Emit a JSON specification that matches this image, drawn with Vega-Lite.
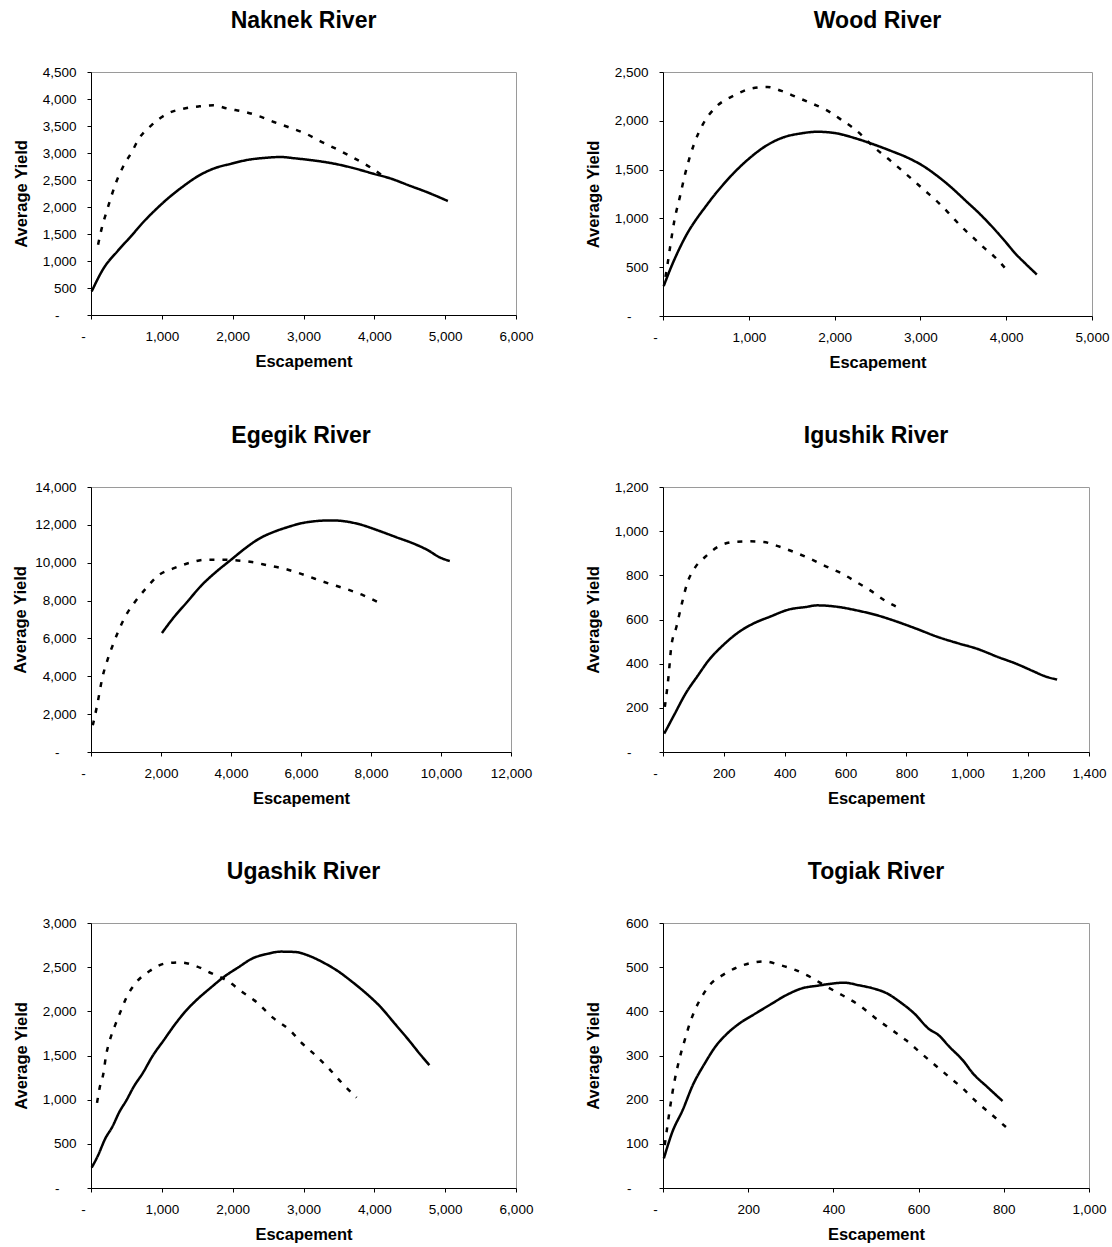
{
  "$schema": "https://vega.github.io/schema/vega-lite/v6.json",
  "padding": {"left": 12, "top": 9, "right": 0, "bottom": 0},
  "config": {
    "font": "Liberation Sans",
    "view": {"stroke": "#9a9a9a", "strokeWidth": 1},
    "axis": {
      "grid": false,
      "domainColor": "#000000",
      "tickColor": "#000000",
      "tickSize": 4,
      "labelFont": "Liberation Sans",
      "labelFontSize": 13.5,
      "labelColor": "#000000",
      "titleFont": "Liberation Sans",
      "titleFontSize": 16.5,
      "titleFontWeight": "bold",
      "titleColor": "#000000",
      "labelExpr": "datum.value == 0 ? '-' : format(datum.value, ',')"
    },
    "axisX": {"labelPadding": 10, "titlePadding": 11, "labelFlush": false, "labelOverlap": false,
      "labelOffset": {"condition": {"test": "datum.value == 0", "value": -8}, "value": 0}},
    "axisY": {"labelOverlap": false,
      "labelPadding": {"condition": {"test": "datum.value == 0", "value": 28}, "value": 11}},
    "title": {"fontSize": 23, "fontWeight": "bold", "color": "#000000", "offset": 32, "font": "Liberation Sans"},
    "line": {"color": "#000000", "strokeWidth": 2.5, "interpolate": "monotone"}
  },
  "datasets": {
    "naknek": [
      {"esc": 10, "yield": 438, "series": "Series 1"},
      {"esc": 175, "yield": 858, "series": "Series 1"},
      {"esc": 376, "yield": 1185, "series": "Series 1"},
      {"esc": 576, "yield": 1475, "series": "Series 1"},
      {"esc": 727, "yield": 1704, "series": "Series 1"},
      {"esc": 927, "yield": 1969, "series": "Series 1"},
      {"esc": 1078, "yield": 2150, "series": "Series 1"},
      {"esc": 1278, "yield": 2360, "series": "Series 1"},
      {"esc": 1529, "yield": 2586, "series": "Series 1"},
      {"esc": 1729, "yield": 2710, "series": "Series 1"},
      {"esc": 1980, "yield": 2802, "series": "Series 1"},
      {"esc": 2231, "yield": 2877, "series": "Series 1"},
      {"esc": 2431, "yield": 2907, "series": "Series 1"},
      {"esc": 2682, "yield": 2926, "series": "Series 1"},
      {"esc": 2882, "yield": 2901, "series": "Series 1"},
      {"esc": 3133, "yield": 2864, "series": "Series 1"},
      {"esc": 3434, "yield": 2802, "series": "Series 1"},
      {"esc": 3684, "yield": 2728, "series": "Series 1"},
      {"esc": 3985, "yield": 2617, "series": "Series 1"},
      {"esc": 4236, "yield": 2525, "series": "Series 1"},
      {"esc": 4486, "yield": 2401, "series": "Series 1"},
      {"esc": 4737, "yield": 2278, "series": "Series 1"},
      {"esc": 5038, "yield": 2111, "series": "Series 1"},
      {"esc": 100, "yield": 1302, "series": "Series 2"},
      {"esc": 150, "yield": 1599, "series": "Series 2"},
      {"esc": 226, "yield": 1938, "series": "Series 2"},
      {"esc": 351, "yield": 2444, "series": "Series 2"},
      {"esc": 451, "yield": 2741, "series": "Series 2"},
      {"esc": 576, "yield": 3019, "series": "Series 2"},
      {"esc": 677, "yield": 3265, "series": "Series 2"},
      {"esc": 852, "yield": 3512, "series": "Series 2"},
      {"esc": 1078, "yield": 3728, "series": "Series 2"},
      {"esc": 1303, "yield": 3821, "series": "Series 2"},
      {"esc": 1529, "yield": 3864, "series": "Series 2"},
      {"esc": 1729, "yield": 3883, "series": "Series 2"},
      {"esc": 1930, "yield": 3821, "series": "Series 2"},
      {"esc": 2180, "yield": 3759, "series": "Series 2"},
      {"esc": 2381, "yield": 3679, "series": "Series 2"},
      {"esc": 2581, "yield": 3574, "series": "Series 2"},
      {"esc": 2782, "yield": 3481, "series": "Series 2"},
      {"esc": 3033, "yield": 3358, "series": "Series 2"},
      {"esc": 3233, "yield": 3222, "series": "Series 2"},
      {"esc": 3484, "yield": 3062, "series": "Series 2"},
      {"esc": 3684, "yield": 2926, "series": "Series 2"},
      {"esc": 3935, "yield": 2741, "series": "Series 2"},
      {"esc": 4110, "yield": 2586, "series": "Series 2"}
    ],
    "wood": [
      {"esc": 8, "yield": 306, "series": "Series 1"},
      {"esc": 71, "yield": 450, "series": "Series 1"},
      {"esc": 175, "yield": 660, "series": "Series 1"},
      {"esc": 279, "yield": 840, "series": "Series 1"},
      {"esc": 403, "yield": 1010, "series": "Series 1"},
      {"esc": 487, "yield": 1110, "series": "Series 1"},
      {"esc": 591, "yield": 1230, "series": "Series 1"},
      {"esc": 695, "yield": 1340, "series": "Series 1"},
      {"esc": 819, "yield": 1460, "series": "Series 1"},
      {"esc": 986, "yield": 1600, "series": "Series 1"},
      {"esc": 1194, "yield": 1740, "series": "Series 1"},
      {"esc": 1402, "yield": 1830, "series": "Series 1"},
      {"esc": 1610, "yield": 1871, "series": "Series 1"},
      {"esc": 1797, "yield": 1888, "series": "Series 1"},
      {"esc": 2026, "yield": 1871, "series": "Series 1"},
      {"esc": 2234, "yield": 1823, "series": "Series 1"},
      {"esc": 2443, "yield": 1762, "series": "Series 1"},
      {"esc": 2650, "yield": 1694, "series": "Series 1"},
      {"esc": 2858, "yield": 1619, "series": "Series 1"},
      {"esc": 3025, "yield": 1541, "series": "Series 1"},
      {"esc": 3191, "yield": 1439, "series": "Series 1"},
      {"esc": 3357, "yield": 1320, "series": "Series 1"},
      {"esc": 3524, "yield": 1184, "series": "Series 1"},
      {"esc": 3690, "yield": 1048, "series": "Series 1"},
      {"esc": 3857, "yield": 895, "series": "Series 1"},
      {"esc": 3982, "yield": 770, "series": "Series 1"},
      {"esc": 4107, "yield": 640, "series": "Series 1"},
      {"esc": 4232, "yield": 530, "series": "Series 1"},
      {"esc": 4357, "yield": 425, "series": "Series 1"},
      {"esc": 29, "yield": 401, "series": "Series 2"},
      {"esc": 54, "yield": 537, "series": "Series 2"},
      {"esc": 83, "yield": 707, "series": "Series 2"},
      {"esc": 133, "yield": 980, "series": "Series 2"},
      {"esc": 196, "yield": 1218, "series": "Series 2"},
      {"esc": 258, "yield": 1456, "series": "Series 2"},
      {"esc": 362, "yield": 1762, "series": "Series 2"},
      {"esc": 466, "yield": 1966, "series": "Series 2"},
      {"esc": 611, "yield": 2136, "series": "Series 2"},
      {"esc": 819, "yield": 2255, "series": "Series 2"},
      {"esc": 1027, "yield": 2330, "series": "Series 2"},
      {"esc": 1215, "yield": 2347, "series": "Series 2"},
      {"esc": 1381, "yield": 2306, "series": "Series 2"},
      {"esc": 1568, "yield": 2238, "series": "Series 2"},
      {"esc": 1755, "yield": 2170, "series": "Series 2"},
      {"esc": 1921, "yield": 2102, "series": "Series 2"},
      {"esc": 2067, "yield": 2017, "series": "Series 2"},
      {"esc": 2234, "yield": 1915, "series": "Series 2"},
      {"esc": 2484, "yield": 1711, "series": "Series 2"},
      {"esc": 2650, "yield": 1592, "series": "Series 2"},
      {"esc": 2796, "yield": 1483, "series": "Series 2"},
      {"esc": 3045, "yield": 1290, "series": "Series 2"},
      {"esc": 3212, "yield": 1160, "series": "Series 2"},
      {"esc": 3337, "yield": 1048, "series": "Series 2"},
      {"esc": 3482, "yield": 912, "series": "Series 2"},
      {"esc": 3607, "yield": 810, "series": "Series 2"},
      {"esc": 3753, "yield": 690, "series": "Series 2"},
      {"esc": 3898, "yield": 578, "series": "Series 2"},
      {"esc": 4023, "yield": 452, "series": "Series 2"}
    ],
    "egegik": [
      {"esc": 2026, "yield": 6285, "series": "Series 1"},
      {"esc": 2334, "yield": 7042, "series": "Series 1"},
      {"esc": 2745, "yield": 7923, "series": "Series 1"},
      {"esc": 3157, "yield": 8803, "series": "Series 1"},
      {"esc": 3568, "yield": 9507, "series": "Series 1"},
      {"esc": 3979, "yield": 10123, "series": "Series 1"},
      {"esc": 4391, "yield": 10739, "series": "Series 1"},
      {"esc": 4802, "yield": 11268, "series": "Series 1"},
      {"esc": 5213, "yield": 11620, "series": "Series 1"},
      {"esc": 5625, "yield": 11884, "series": "Series 1"},
      {"esc": 6036, "yield": 12095, "series": "Series 1"},
      {"esc": 6447, "yield": 12201, "series": "Series 1"},
      {"esc": 6859, "yield": 12236, "series": "Series 1"},
      {"esc": 7270, "yield": 12183, "series": "Series 1"},
      {"esc": 7681, "yield": 12025, "series": "Series 1"},
      {"esc": 8195, "yield": 11708, "series": "Series 1"},
      {"esc": 8710, "yield": 11356, "series": "Series 1"},
      {"esc": 9224, "yield": 11004, "series": "Series 1"},
      {"esc": 9635, "yield": 10651, "series": "Series 1"},
      {"esc": 9944, "yield": 10299, "series": "Series 1"},
      {"esc": 10252, "yield": 10088, "series": "Series 1"},
      {"esc": 51, "yield": 1408, "series": "Series 2"},
      {"esc": 175, "yield": 2465, "series": "Series 2"},
      {"esc": 329, "yield": 3961, "series": "Series 2"},
      {"esc": 483, "yield": 4930, "series": "Series 2"},
      {"esc": 638, "yield": 5722, "series": "Series 2"},
      {"esc": 792, "yield": 6426, "series": "Series 2"},
      {"esc": 997, "yield": 7218, "series": "Series 2"},
      {"esc": 1254, "yield": 7923, "series": "Series 2"},
      {"esc": 1563, "yield": 8627, "series": "Series 2"},
      {"esc": 1923, "yield": 9331, "series": "Series 2"},
      {"esc": 2334, "yield": 9683, "series": "Series 2"},
      {"esc": 2797, "yield": 9983, "series": "Series 2"},
      {"esc": 3260, "yield": 10159, "series": "Series 2"},
      {"esc": 3774, "yield": 10159, "series": "Series 2"},
      {"esc": 4185, "yield": 10123, "series": "Series 2"},
      {"esc": 4596, "yield": 10035, "series": "Series 2"},
      {"esc": 5059, "yield": 9859, "series": "Series 2"},
      {"esc": 5522, "yield": 9683, "series": "Series 2"},
      {"esc": 5934, "yield": 9454, "series": "Series 2"},
      {"esc": 6396, "yield": 9155, "series": "Series 2"},
      {"esc": 6807, "yield": 8891, "series": "Series 2"},
      {"esc": 7270, "yield": 8627, "series": "Series 2"},
      {"esc": 7784, "yield": 8275, "series": "Series 2"},
      {"esc": 8195, "yield": 7923, "series": "Series 2"}
    ],
    "igushik": [
      {"esc": 4, "yield": 83, "series": "Series 1"},
      {"esc": 39, "yield": 174, "series": "Series 1"},
      {"esc": 74, "yield": 264, "series": "Series 1"},
      {"esc": 115, "yield": 347, "series": "Series 1"},
      {"esc": 150, "yield": 415, "series": "Series 1"},
      {"esc": 197, "yield": 483, "series": "Series 1"},
      {"esc": 249, "yield": 543, "series": "Series 1"},
      {"esc": 296, "yield": 581, "series": "Series 1"},
      {"esc": 354, "yield": 614, "series": "Series 1"},
      {"esc": 413, "yield": 645, "series": "Series 1"},
      {"esc": 471, "yield": 657, "series": "Series 1"},
      {"esc": 506, "yield": 664, "series": "Series 1"},
      {"esc": 576, "yield": 657, "series": "Series 1"},
      {"esc": 634, "yield": 642, "series": "Series 1"},
      {"esc": 704, "yield": 619, "series": "Series 1"},
      {"esc": 763, "yield": 593, "series": "Series 1"},
      {"esc": 833, "yield": 558, "series": "Series 1"},
      {"esc": 903, "yield": 521, "series": "Series 1"},
      {"esc": 973, "yield": 491, "series": "Series 1"},
      {"esc": 1031, "yield": 468, "series": "Series 1"},
      {"esc": 1101, "yield": 430, "series": "Series 1"},
      {"esc": 1160, "yield": 400, "series": "Series 1"},
      {"esc": 1218, "yield": 365, "series": "Series 1"},
      {"esc": 1253, "yield": 344, "series": "Series 1"},
      {"esc": 1295, "yield": 328, "series": "Series 1"},
      {"esc": 6, "yield": 204, "series": "Series 2"},
      {"esc": 18, "yield": 340, "series": "Series 2"},
      {"esc": 27, "yield": 475, "series": "Series 2"},
      {"esc": 44, "yield": 566, "series": "Series 2"},
      {"esc": 62, "yield": 672, "series": "Series 2"},
      {"esc": 79, "yield": 762, "series": "Series 2"},
      {"esc": 103, "yield": 830, "series": "Series 2"},
      {"esc": 138, "yield": 883, "series": "Series 2"},
      {"esc": 179, "yield": 928, "series": "Series 2"},
      {"esc": 231, "yield": 951, "series": "Series 2"},
      {"esc": 284, "yield": 954, "series": "Series 2"},
      {"esc": 331, "yield": 951, "series": "Series 2"},
      {"esc": 378, "yield": 932, "series": "Series 2"},
      {"esc": 430, "yield": 906, "series": "Series 2"},
      {"esc": 483, "yield": 875, "series": "Series 2"},
      {"esc": 535, "yield": 841, "series": "Series 2"},
      {"esc": 588, "yield": 808, "series": "Series 2"},
      {"esc": 635, "yield": 770, "series": "Series 2"},
      {"esc": 681, "yield": 732, "series": "Series 2"},
      {"esc": 728, "yield": 687, "series": "Series 2"},
      {"esc": 787, "yield": 645, "series": "Series 2"}
    ],
    "ugashik": [
      {"esc": 10, "yield": 231, "series": "Series 1"},
      {"esc": 100, "yield": 370, "series": "Series 1"},
      {"esc": 201, "yield": 559, "series": "Series 1"},
      {"esc": 301, "yield": 692, "series": "Series 1"},
      {"esc": 401, "yield": 862, "series": "Series 1"},
      {"esc": 501, "yield": 994, "series": "Series 1"},
      {"esc": 602, "yield": 1145, "series": "Series 1"},
      {"esc": 727, "yield": 1296, "series": "Series 1"},
      {"esc": 877, "yield": 1504, "series": "Series 1"},
      {"esc": 1028, "yield": 1674, "series": "Series 1"},
      {"esc": 1178, "yield": 1844, "series": "Series 1"},
      {"esc": 1328, "yield": 1995, "series": "Series 1"},
      {"esc": 1479, "yield": 2120, "series": "Series 1"},
      {"esc": 1679, "yield": 2260, "series": "Series 1"},
      {"esc": 1880, "yield": 2392, "series": "Series 1"},
      {"esc": 2080, "yield": 2498, "series": "Series 1"},
      {"esc": 2281, "yield": 2600, "series": "Series 1"},
      {"esc": 2481, "yield": 2649, "series": "Series 1"},
      {"esc": 2682, "yield": 2676, "series": "Series 1"},
      {"esc": 2882, "yield": 2672, "series": "Series 1"},
      {"esc": 3083, "yield": 2627, "series": "Series 1"},
      {"esc": 3283, "yield": 2551, "series": "Series 1"},
      {"esc": 3484, "yield": 2456, "series": "Series 1"},
      {"esc": 3684, "yield": 2336, "series": "Series 1"},
      {"esc": 3885, "yield": 2203, "series": "Series 1"},
      {"esc": 4085, "yield": 2052, "series": "Series 1"},
      {"esc": 4286, "yield": 1863, "series": "Series 1"},
      {"esc": 4486, "yield": 1674, "series": "Series 1"},
      {"esc": 4637, "yield": 1523, "series": "Series 1"},
      {"esc": 4777, "yield": 1391, "series": "Series 1"},
      {"esc": 85, "yield": 964, "series": "Series 2"},
      {"esc": 125, "yield": 1145, "series": "Series 2"},
      {"esc": 175, "yield": 1296, "series": "Series 2"},
      {"esc": 211, "yield": 1493, "series": "Series 2"},
      {"esc": 266, "yield": 1674, "series": "Series 2"},
      {"esc": 341, "yield": 1844, "series": "Series 2"},
      {"esc": 426, "yield": 2014, "series": "Series 2"},
      {"esc": 501, "yield": 2158, "series": "Series 2"},
      {"esc": 627, "yield": 2317, "series": "Series 2"},
      {"esc": 827, "yield": 2456, "series": "Series 2"},
      {"esc": 1053, "yield": 2543, "series": "Series 2"},
      {"esc": 1253, "yield": 2555, "series": "Series 2"},
      {"esc": 1479, "yield": 2513, "series": "Series 2"},
      {"esc": 1704, "yield": 2430, "series": "Series 2"},
      {"esc": 1930, "yield": 2343, "series": "Series 2"},
      {"esc": 2130, "yield": 2222, "series": "Series 2"},
      {"esc": 2331, "yield": 2109, "series": "Series 2"},
      {"esc": 2581, "yield": 1920, "series": "Series 2"},
      {"esc": 2807, "yield": 1787, "series": "Series 2"},
      {"esc": 2982, "yield": 1636, "series": "Series 2"},
      {"esc": 3183, "yield": 1493, "series": "Series 2"},
      {"esc": 3358, "yield": 1353, "series": "Series 2"},
      {"esc": 3559, "yield": 1175, "series": "Series 2"},
      {"esc": 3749, "yield": 1024, "series": "Series 2"}
    ],
    "togiak": [
      {"esc": 2, "yield": 67, "series": "Series 1"},
      {"esc": 22, "yield": 127, "series": "Series 1"},
      {"esc": 46, "yield": 176, "series": "Series 1"},
      {"esc": 70, "yield": 233, "series": "Series 1"},
      {"esc": 98, "yield": 282, "series": "Series 1"},
      {"esc": 123, "yield": 320, "series": "Series 1"},
      {"esc": 151, "yield": 350, "series": "Series 1"},
      {"esc": 180, "yield": 373, "series": "Series 1"},
      {"esc": 217, "yield": 395, "series": "Series 1"},
      {"esc": 253, "yield": 416, "series": "Series 1"},
      {"esc": 290, "yield": 437, "series": "Series 1"},
      {"esc": 326, "yield": 452, "series": "Series 1"},
      {"esc": 363, "yield": 458, "series": "Series 1"},
      {"esc": 399, "yield": 463, "series": "Series 1"},
      {"esc": 424, "yield": 465, "series": "Series 1"},
      {"esc": 460, "yield": 459, "series": "Series 1"},
      {"esc": 493, "yield": 452, "series": "Series 1"},
      {"esc": 525, "yield": 441, "series": "Series 1"},
      {"esc": 558, "yield": 420, "series": "Series 1"},
      {"esc": 590, "yield": 395, "series": "Series 1"},
      {"esc": 623, "yield": 361, "series": "Series 1"},
      {"esc": 647, "yield": 346, "series": "Series 1"},
      {"esc": 672, "yield": 320, "series": "Series 1"},
      {"esc": 704, "yield": 289, "series": "Series 1"},
      {"esc": 728, "yield": 259, "series": "Series 1"},
      {"esc": 761, "yield": 229, "series": "Series 1"},
      {"esc": 797, "yield": 197, "series": "Series 1"},
      {"esc": 4, "yield": 97, "series": "Series 2"},
      {"esc": 10, "yield": 138, "series": "Series 2"},
      {"esc": 18, "yield": 191, "series": "Series 2"},
      {"esc": 26, "yield": 237, "series": "Series 2"},
      {"esc": 38, "yield": 290, "series": "Series 2"},
      {"esc": 51, "yield": 335, "series": "Series 2"},
      {"esc": 63, "yield": 373, "series": "Series 2"},
      {"esc": 75, "yield": 403, "series": "Series 2"},
      {"esc": 91, "yield": 433, "series": "Series 2"},
      {"esc": 111, "yield": 461, "series": "Series 2"},
      {"esc": 140, "yield": 482, "series": "Series 2"},
      {"esc": 168, "yield": 497, "series": "Series 2"},
      {"esc": 205, "yield": 509, "series": "Series 2"},
      {"esc": 237, "yield": 513, "series": "Series 2"},
      {"esc": 274, "yield": 505, "series": "Series 2"},
      {"esc": 310, "yield": 494, "series": "Series 2"},
      {"esc": 347, "yield": 477, "series": "Series 2"},
      {"esc": 384, "yield": 456, "series": "Series 2"},
      {"esc": 420, "yield": 437, "series": "Series 2"},
      {"esc": 460, "yield": 414, "series": "Series 2"},
      {"esc": 505, "yield": 380, "series": "Series 2"},
      {"esc": 537, "yield": 358, "series": "Series 2"},
      {"esc": 570, "yield": 335, "series": "Series 2"},
      {"esc": 606, "yield": 305, "series": "Series 2"},
      {"esc": 639, "yield": 278, "series": "Series 2"},
      {"esc": 671, "yield": 252, "series": "Series 2"},
      {"esc": 704, "yield": 225, "series": "Series 2"},
      {"esc": 736, "yield": 195, "series": "Series 2"},
      {"esc": 768, "yield": 169, "series": "Series 2"},
      {"esc": 805, "yield": 138, "series": "Series 2"}
    ]
  },
  "columns": 2,
  "align": "each",
  "spacing": {"row": 52, "column": 50},
  "concat": [
    {
      "title": "Naknek River",
      "width": 425, "height": 243,
      "data": {"name": "naknek"},
      "mark": {"type": "line"},
      "encoding": {
        "x": {"field": "esc", "type": "quantitative", "scale": {"domain": [0, 6000], "nice": false}, "axis": {"title": "Escapement", "values": [0, 1000, 2000, 3000, 4000, 5000, 6000]}},
        "y": {"field": "yield", "type": "quantitative", "scale": {"domain": [0, 4500], "nice": false}, "axis": {"title": "Average Yield", "titlePadding": 13, "values": [0, 500, 1000, 1500, 2000, 2500, 3000, 3500, 4000, 4500]}},
        "strokeDash": {"field": "series", "type": "nominal", "scale": {"domain": ["Series 1", "Series 2"], "range": [[1, 0], [5, 8]]}, "legend": null}
      }
    },
    {
      "title": "Wood River",
      "width": 429, "height": 244,
      "data": {"name": "wood"},
      "mark": {"type": "line"},
      "encoding": {
        "x": {"field": "esc", "type": "quantitative", "scale": {"domain": [0, 5000], "nice": false}, "axis": {"title": "Escapement", "values": [0, 1000, 2000, 3000, 4000, 5000]}},
        "y": {"field": "yield", "type": "quantitative", "scale": {"domain": [0, 2500], "nice": false}, "axis": {"title": "Average Yield", "titlePadding": 13, "values": [0, 500, 1000, 1500, 2000, 2500]}},
        "strokeDash": {"field": "series", "type": "nominal", "scale": {"domain": ["Series 1", "Series 2"], "range": [[1, 0], [5, 8]]}, "legend": null}
      }
    },
    {
      "title": "Egegik River",
      "width": 420, "height": 265,
      "data": {"name": "egegik"},
      "mark": {"type": "line"},
      "encoding": {
        "x": {"field": "esc", "type": "quantitative", "scale": {"domain": [0, 12000], "nice": false}, "axis": {"title": "Escapement", "values": [0, 2000, 4000, 6000, 8000, 10000, 12000]}},
        "y": {"field": "yield", "type": "quantitative", "scale": {"domain": [0, 14000], "nice": false}, "axis": {"title": "Average Yield", "titlePadding": 6, "values": [0, 2000, 4000, 6000, 8000, 10000, 12000, 14000]}},
        "strokeDash": {"field": "series", "type": "nominal", "scale": {"domain": ["Series 1", "Series 2"], "range": [[1, 0], [5, 8]]}, "legend": null}
      }
    },
    {
      "title": "Igushik River",
      "width": 426, "height": 265,
      "data": {"name": "igushik"},
      "mark": {"type": "line"},
      "encoding": {
        "x": {"field": "esc", "type": "quantitative", "scale": {"domain": [0, 1400], "nice": false}, "axis": {"title": "Escapement", "values": [0, 200, 400, 600, 800, 1000, 1200, 1400]}},
        "y": {"field": "yield", "type": "quantitative", "scale": {"domain": [0, 1200], "nice": false}, "axis": {"title": "Average Yield", "titlePadding": 13, "values": [0, 200, 400, 600, 800, 1000, 1200]}},
        "strokeDash": {"field": "series", "type": "nominal", "scale": {"domain": ["Series 1", "Series 2"], "range": [[1, 0], [5, 8]]}, "legend": null}
      }
    },
    {
      "title": "Ugashik River",
      "width": 425, "height": 265,
      "data": {"name": "ugashik"},
      "mark": {"type": "line"},
      "encoding": {
        "x": {"field": "esc", "type": "quantitative", "scale": {"domain": [0, 6000], "nice": false}, "axis": {"title": "Escapement", "values": [0, 1000, 2000, 3000, 4000, 5000, 6000]}},
        "y": {"field": "yield", "type": "quantitative", "scale": {"domain": [0, 3000], "nice": false}, "axis": {"title": "Average Yield", "titlePadding": 13, "values": [0, 500, 1000, 1500, 2000, 2500, 3000]}},
        "strokeDash": {"field": "series", "type": "nominal", "scale": {"domain": ["Series 1", "Series 2"], "range": [[1, 0], [5, 8]]}, "legend": null}
      }
    },
    {
      "title": "Togiak River",
      "width": 426, "height": 265,
      "data": {"name": "togiak"},
      "mark": {"type": "line"},
      "encoding": {
        "x": {"field": "esc", "type": "quantitative", "scale": {"domain": [0, 1000], "nice": false}, "axis": {"title": "Escapement", "values": [0, 200, 400, 600, 800, 1000]}},
        "y": {"field": "yield", "type": "quantitative", "scale": {"domain": [0, 600], "nice": false}, "axis": {"title": "Average Yield", "titlePadding": 24, "values": [0, 100, 200, 300, 400, 500, 600]}},
        "strokeDash": {"field": "series", "type": "nominal", "scale": {"domain": ["Series 1", "Series 2"], "range": [[1, 0], [5, 8]]}, "legend": null}
      }
    }
  ]
}
